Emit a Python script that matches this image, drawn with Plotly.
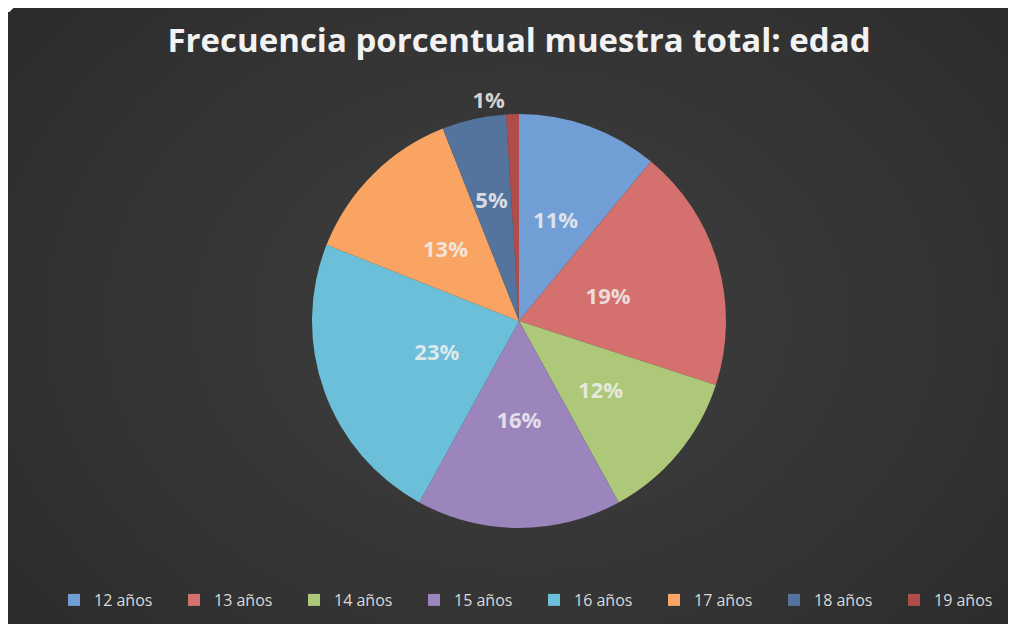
import plotly.graph_objects as go

categories = ["12 años", "13 años", "14 años", "15 años", "16 años", "17 años", "18 años", "19 años"]
values = [11, 19, 12, 16, 23, 13, 5, 1]
slice_colors = ["#719ed5", "#d4706d", "#adc878", "#9c84bd", "#6cbfd8", "#f9a462", "#54749e", "#b04d4b"]
label_inside = [True, True, True, True, True, True, True, False]
title_text = "Frecuencia porcentual muestra total: edad"

W, H = 1016, 624
OFF = 8  # page body margin
cx, cy, R = 519 - OFF, 321 - OFF, 207  # pie centre / radius in figure pixels
Rl = 145  # radius of the label-carrier pie

def dom(r):
    return dict(x=[(cx - r) / W, (cx + r) / W], y=[(H - cy - r) / H, (H - cy + r) / H])

font_lbl = dict(family="Open Sans", size=22, color="rgba(240,240,240,0.85)", weight="bold")

fig = go.Figure()

# main pie (outside label for tiny slice only)
fig.add_trace(go.Pie(
    labels=categories, values=values, sort=False, direction="clockwise", rotation=0,
    marker=dict(colors=slice_colors, line=dict(width=0)),
    texttemplate=["" if ins else "%{percent:.0%}" for ins in label_inside],
    textposition=["inside" if ins else "outside" for ins in label_inside],
    textfont=font_lbl, outsidetextfont=font_lbl,
    domain=dom(R), hoverinfo="label+percent",
))

# label carrier pie: transparent, smaller radius so labels sit near mid-radius
fig.add_trace(go.Pie(
    labels=categories, values=values, sort=False, direction="clockwise", rotation=0,
    marker=dict(colors=["rgba(0,0,0,0)"] * len(values), line=dict(width=0)),
    texttemplate=["%{percent:.0%}" if ins else "" for ins in label_inside],
    textposition="inside", insidetextorientation="horizontal",
    textfont=font_lbl, insidetextfont=font_lbl,
    domain=dom(Rl), hoverinfo="skip", showlegend=False,
))

# background: dark panel with subtle radial lightening toward centre
shapes = [dict(type="rect", xref="paper", yref="paper", x0=0, x1=1, y0=1 - 4 / H, y1=1,
               fillcolor="white", line=dict(width=0), layer="below")]
n = 22
for i in range(n):
    f = 1 - i / n
    rx = 0.64 * f
    ry = 0.80 * f
    g = 0x2b + round(0x15 * (i + 1) / n)
    shapes.append(dict(type="circle", xref="paper", yref="paper",
                       x0=0.505 - rx, x1=0.505 + rx, y0=0.5 - ry, y1=0.5 + ry,
                       fillcolor=f"rgb({g},{g},{g})", line=dict(width=0), layer="below"))

fig.update_layout(
    width=W, height=H,
    margin=dict(l=0, r=0, t=0, b=0, autoexpand=False),
    paper_bgcolor="#292929",
    plot_bgcolor="#292929",
    shapes=shapes,
    uniformtext=dict(minsize=22, mode="show"),
    title=dict(text=title_text, x=cx / W, xanchor="center", y=1 - (40 - OFF) / H, yanchor="middle",
               font=dict(family="Open Sans", size=33, color="#f2f2f2", weight="bold")),
    showlegend=True,
    legend=dict(orientation="h", x=526 / W, xanchor="center", y=(H - (600 - OFF)) / H, yanchor="middle",
                font=dict(family="Open Sans", size=16, color="#d9d9d9"),
                bgcolor="rgba(0,0,0,0)", entrywidth=75, entrywidthmode="pixels",
                itemwidth=30, traceorder="normal"),
)

fig.write_html("out.html")
